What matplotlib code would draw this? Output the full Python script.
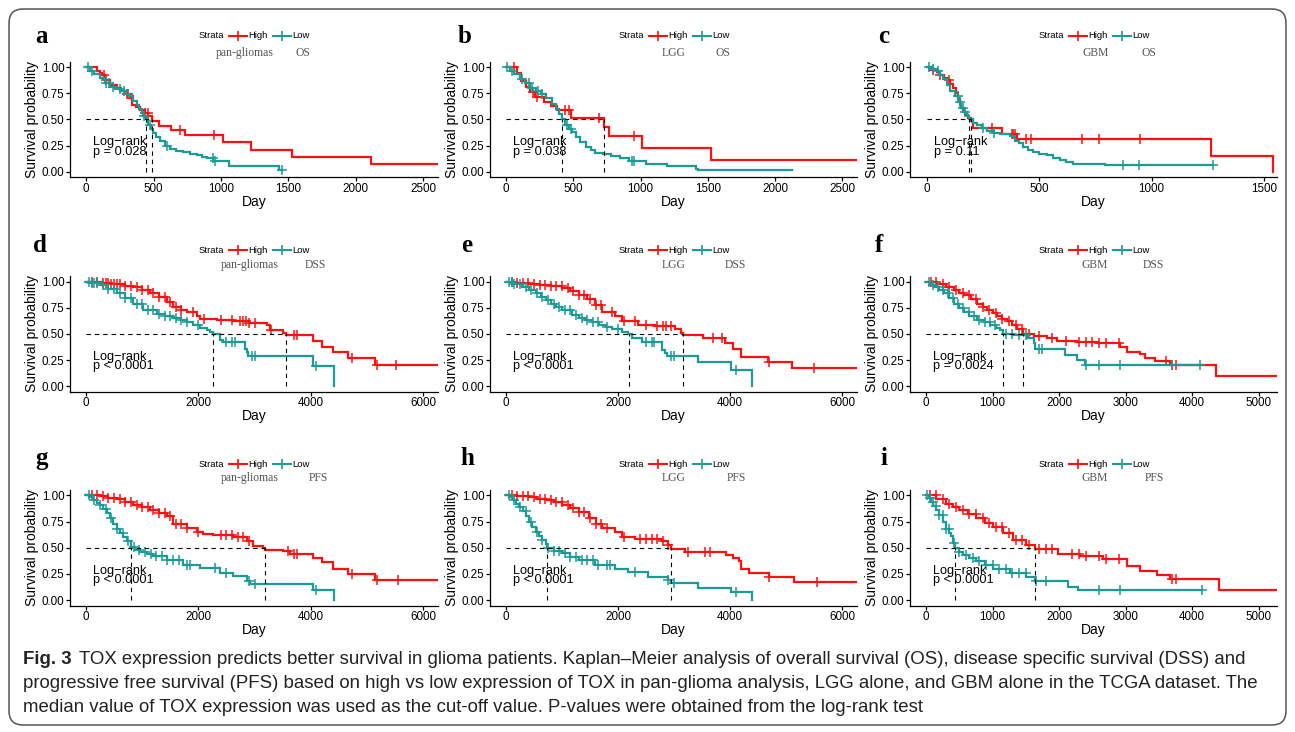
import numpy as np
import matplotlib.pyplot as plt
from matplotlib.lines import Line2D
from matplotlib.patches import FancyBboxPatch

plt.rcParams["font.family"] = ["Liberation Sans", "DejaVu Sans"]

# ---- KM curves: step times (day) and survival after each step ----
a_high_t = [0, 79, 100, 116, 141, 178, 228, 260, 289, 326, 339, 370, 400, 438, 462, 487, 540, 630, 730, 1015, 1225, 1530, 2115, 2611]
a_high_s = [1.0, 0.96, 0.94, 0.92, 0.88, 0.83, 0.80, 0.77, 0.74, 0.70, 0.64, 0.62, 0.59, 0.56, 0.53, 0.48, 0.44, 0.40, 0.35, 0.28, 0.21, 0.14, 0.07, 0.07]
a_high_cens = [130, 150, 300, 310, 440, 460, 697, 952]
a_low_t = [0, 30, 60, 104, 140, 178, 215, 252, 290, 326, 350, 376, 395, 413, 425, 443, 462, 480, 499, 520, 549, 585, 623, 670, 722, 770, 821, 860, 895, 944, 1061, 1430, 1450]
a_low_s = [1.0, 0.96, 0.93, 0.895, 0.85, 0.81, 0.79, 0.77, 0.745, 0.72, 0.68, 0.64, 0.60, 0.56, 0.53, 0.50, 0.45, 0.41, 0.37, 0.33, 0.29, 0.25, 0.22, 0.20, 0.19, 0.17, 0.16, 0.145, 0.13, 0.10, 0.054, 0.015, 0.015]
a_low_cens = [10, 40, 150, 170, 200, 250, 280, 430, 470, 600, 940, 955, 1450]

b_high_t = [0, 78, 110, 150, 180, 217, 280, 332, 382, 485, 727, 763, 1010, 1522, 2600]
b_high_s = [1.0, 0.94, 0.87, 0.81, 0.76, 0.71, 0.67, 0.63, 0.59, 0.51, 0.43, 0.34, 0.23, 0.11, 0.11]
b_high_cens = [60, 200, 230, 440, 470, 690, 948]
b_low_t = [0, 30, 60, 100, 140, 180, 220, 260, 300, 340, 370, 395, 414, 440, 465, 493, 520, 550, 591, 630, 665, 720, 780, 850, 911, 1040, 1200, 1410, 1430, 2130]
b_low_s = [1.0, 0.96, 0.93, 0.89, 0.85, 0.80, 0.77, 0.74, 0.70, 0.65, 0.60, 0.55, 0.50, 0.45, 0.41, 0.38, 0.33, 0.28, 0.24, 0.21, 0.18, 0.17, 0.15, 0.13, 0.10, 0.077, 0.054, 0.03, 0.013, 0.013]
b_low_cens = [10, 40, 120, 170, 190, 240, 270, 450, 480, 940, 955]

c_high_t = [0, 20, 45, 59, 75, 89, 104, 118, 130, 141, 148, 155, 163, 170, 185, 196, 207, 333, 400, 1263, 1538]
c_high_s = [1.0, 0.97, 0.95, 0.92, 0.90, 0.88, 0.84, 0.80, 0.75, 0.70, 0.65, 0.61, 0.57, 0.54, 0.51, 0.48, 0.42, 0.36, 0.31, 0.155, 0.0]
c_high_cens = [30, 60, 100, 290, 379, 385, 395, 440, 462, 689, 766, 950]
c_low_t = [0, 15, 44, 60, 74, 89, 104, 126, 141, 155, 166, 178, 190, 205, 222, 245, 267, 300, 326, 370, 393, 410, 430, 450, 474, 500, 533, 560, 593, 620, 652, 793, 1275]
c_low_s = [1.0, 0.98, 0.96, 0.92, 0.89, 0.83, 0.77, 0.72, 0.67, 0.61, 0.57, 0.53, 0.50, 0.47, 0.45, 0.42, 0.39, 0.37, 0.36, 0.34, 0.29, 0.27, 0.24, 0.21, 0.19, 0.17, 0.16, 0.13, 0.11, 0.09, 0.077, 0.06, 0.06]
c_low_cens = [10, 30, 50, 140, 150, 160, 170, 250, 300, 874, 945, 1275]

d_high_t = [0, 150, 300, 450, 546, 700, 843, 1000, 1139, 1300, 1436, 1555, 1700, 1792, 1970, 2030, 2326, 2622, 2900, 3216, 3276, 3513, 3556, 4047, 4210, 4403, 4670, 5145, 6267]
d_high_s = [1.0, 0.995, 0.99, 0.98, 0.975, 0.96, 0.95, 0.92, 0.89, 0.85, 0.81, 0.76, 0.73, 0.71, 0.67, 0.64, 0.63, 0.62, 0.60, 0.585, 0.54, 0.51, 0.49, 0.43, 0.38, 0.33, 0.27, 0.20, 0.20]
d_high_cens = [100, 200, 300, 350, 400, 450, 500, 550, 600, 700, 800, 900, 1000, 1100, 1200, 1300, 1400, 1500, 1600, 1700, 1900, 2100, 2400, 2600, 2750, 2800, 2850, 2900, 3000, 3300, 3700, 3750, 4730, 5180, 5514]
d_low_t = [0, 100, 250, 400, 546, 700, 843, 1020, 1258, 1400, 1555, 1700, 1792, 1900, 2030, 2150, 2207, 2267, 2385, 2444, 2830, 2861, 2890, 4047, 4420]
d_low_s = [1.0, 0.985, 0.97, 0.93, 0.89, 0.84, 0.79, 0.73, 0.69, 0.67, 0.65, 0.63, 0.61, 0.59, 0.56, 0.54, 0.52, 0.50, 0.44, 0.42, 0.36, 0.33, 0.29, 0.19, 0.0]
d_low_cens = [50, 100, 150, 200, 300, 400, 500, 600, 700, 800, 900, 1000, 1100, 1200, 1300, 1400, 1500, 1600, 1700, 1800, 2000, 2500, 2600, 2650, 2950, 3000, 4100]

e_high_t = [0, 200, 413, 600, 800, 1004, 1150, 1300, 1450, 1596, 1714, 1951, 2069, 2364, 2660, 3015, 3133, 3162, 3517, 3902, 4050, 4197, 4670, 5115, 6267]
e_high_s = [1.0, 0.99, 0.975, 0.965, 0.955, 0.94, 0.91, 0.87, 0.83, 0.78, 0.71, 0.67, 0.62, 0.59, 0.58, 0.55, 0.51, 0.49, 0.465, 0.41, 0.36, 0.28, 0.236, 0.178, 0.178]
e_high_cens = [100, 200, 300, 400, 500, 600, 700, 800, 900, 1000, 1100, 1200, 1300, 1400, 1500, 1600, 1700, 1900, 2100, 2300, 2500, 2700, 2800, 2850, 2950, 3695, 3850, 4700, 5498]
e_low_t = [0, 150, 295, 420, 532, 620, 710, 800, 887, 1004, 1181, 1300, 1419, 1540, 1655, 1780, 1891, 2069, 2187, 2246, 2423, 2778, 2838, 2867, 3429, 4020, 4387]
e_low_s = [1.0, 0.975, 0.95, 0.92, 0.89, 0.85, 0.82, 0.79, 0.76, 0.73, 0.68, 0.655, 0.63, 0.61, 0.59, 0.57, 0.55, 0.52, 0.50, 0.46, 0.42, 0.35, 0.32, 0.29, 0.23, 0.156, 0.0]
e_low_cens = [50, 100, 150, 250, 350, 450, 550, 650, 750, 850, 950, 1050, 1150, 1250, 1350, 1450, 1550, 1650, 1800, 2000, 2500, 2600, 2650, 2950, 3000, 4100]

f_high_t = [0, 170, 300, 419, 500, 569, 670, 769, 850, 919, 1000, 1069, 1150, 1218, 1300, 1368, 1452, 1617, 1817, 1967, 2266, 2566, 2915, 3015, 3214, 3289, 3439, 3664, 4362, 5265]
f_high_s = [1.0, 0.98, 0.95, 0.92, 0.895, 0.87, 0.83, 0.79, 0.76, 0.73, 0.70, 0.67, 0.645, 0.62, 0.585, 0.55, 0.50, 0.485, 0.46, 0.43, 0.42, 0.41, 0.38, 0.33, 0.31, 0.27, 0.24, 0.20, 0.095, 0.095]
f_high_cens = [80, 150, 250, 350, 450, 550, 650, 750, 850, 950, 1050, 1150, 1250, 1350, 1450, 1550, 1700, 1900, 2100, 2300, 2400, 2500, 2600, 2700, 2900, 3600, 3700, 3750]
f_low_t = [0, 60, 120, 200, 269, 340, 419, 500, 569, 650, 769, 870, 969, 1050, 1118, 1153, 1317, 1518, 1617, 1642, 2091, 2266, 2391, 4112]
f_low_s = [1.0, 0.97, 0.95, 0.92, 0.89, 0.84, 0.79, 0.75, 0.71, 0.67, 0.63, 0.61, 0.59, 0.56, 0.54, 0.50, 0.49, 0.46, 0.41, 0.36, 0.30, 0.25, 0.20, 0.20]
f_low_cens = [40, 100, 180, 250, 330, 400, 480, 560, 640, 720, 800, 880, 960, 1040, 1200, 1300, 1400, 1500, 1700, 1750, 2400, 2600, 2920, 3700, 4112]

g_high_t = [0, 249, 400, 546, 700, 843, 1000, 1139, 1300, 1436, 1555, 1792, 1970, 2089, 2267, 2622, 2861, 2979, 3157, 3187, 3513, 3632, 4047, 4196, 4403, 4670, 5145, 6267]
g_high_s = [1.0, 0.99, 0.975, 0.96, 0.935, 0.91, 0.885, 0.86, 0.83, 0.80, 0.73, 0.69, 0.65, 0.63, 0.62, 0.60, 0.56, 0.52, 0.50, 0.48, 0.47, 0.445, 0.40, 0.36, 0.30, 0.25, 0.19, 0.19]
g_high_cens = [100, 200, 300, 400, 500, 600, 700, 800, 900, 1000, 1100, 1200, 1300, 1400, 1500, 1600, 1700, 1800, 2000, 2400, 2500, 2600, 2700, 2800, 2900, 3600, 3700, 3750, 4730, 5180, 5560]
g_low_t = [0, 60, 131, 190, 249, 310, 368, 430, 486, 545, 605, 665, 724, 801, 880, 961, 1080, 1198, 1436, 1733, 2030, 2385, 2622, 2861, 2920, 4047, 4420]
g_low_s = [1.0, 0.98, 0.955, 0.93, 0.91, 0.87, 0.83, 0.78, 0.73, 0.68, 0.64, 0.60, 0.56, 0.51, 0.48, 0.46, 0.44, 0.42, 0.38, 0.34, 0.31, 0.26, 0.23, 0.18, 0.155, 0.10, 0.0]
g_low_cens = [50, 150, 250, 350, 450, 550, 650, 750, 850, 950, 1050, 1150, 1250, 1350, 1450, 1550, 1650, 1800, 1850, 2300, 2500, 2900, 3000, 4100]

h_high_t = [0, 200, 413, 560, 710, 850, 1004, 1150, 1300, 1478, 1600, 1714, 1951, 2069, 2306, 2778, 2897, 2955, 3193, 3931, 4050, 4168, 4197, 4345, 4700, 5144, 6267]
h_high_s = [1.0, 0.99, 0.98, 0.965, 0.955, 0.935, 0.91, 0.875, 0.84, 0.78, 0.73, 0.69, 0.65, 0.60, 0.58, 0.56, 0.53, 0.49, 0.46, 0.43, 0.40, 0.37, 0.30, 0.26, 0.225, 0.17, 0.17]
h_high_cens = [100, 200, 300, 400, 500, 600, 700, 800, 900, 1000, 1100, 1200, 1300, 1400, 1500, 1600, 1700, 1800, 2100, 2400, 2500, 2600, 2700, 2800, 2900, 3250, 3550, 3650, 4700, 5560]
h_low_t = [0, 60, 118, 180, 236, 300, 355, 415, 473, 530, 591, 650, 710, 738, 850, 1004, 1150, 1300, 1596, 1951, 2187, 2542, 2897, 2955, 3429, 4020, 4387]
h_low_s = [1.0, 0.98, 0.955, 0.92, 0.89, 0.85, 0.80, 0.75, 0.70, 0.65, 0.61, 0.57, 0.54, 0.50, 0.47, 0.45, 0.41, 0.38, 0.34, 0.30, 0.27, 0.225, 0.19, 0.16, 0.12, 0.076, 0.0]
h_low_cens = [50, 150, 250, 350, 450, 550, 650, 750, 850, 950, 1050, 1150, 1250, 1350, 1450, 1550, 1650, 1800, 1850, 2300, 2900, 3000, 4100]

i_high_t = [0, 151, 302, 400, 502, 630, 754, 880, 1005, 1155, 1306, 1508, 1644, 1985, 2313, 2664, 3017, 3218, 3469, 3670, 4398, 5280]
i_high_s = [1.0, 0.96, 0.92, 0.89, 0.86, 0.82, 0.78, 0.74, 0.70, 0.64, 0.57, 0.53, 0.49, 0.44, 0.42, 0.39, 0.33, 0.28, 0.24, 0.20, 0.095, 0.095]
i_high_cens = [60, 150, 250, 350, 450, 550, 650, 750, 850, 950, 1050, 1150, 1250, 1350, 1450, 1550, 1700, 1800, 1900, 2200, 2300, 2400, 2600, 2700, 2900, 3700, 3750]
i_low_t = [0, 40, 75, 110, 151, 200, 251, 300, 352, 377, 410, 437, 490, 552, 650, 754, 880, 1005, 1256, 1508, 1633, 2136, 2287, 4148]
i_low_s = [1.0, 0.97, 0.94, 0.90, 0.86, 0.81, 0.75, 0.68, 0.64, 0.61, 0.55, 0.50, 0.46, 0.43, 0.40, 0.37, 0.335, 0.30, 0.26, 0.225, 0.18, 0.13, 0.10, 0.10]
i_low_cens = [20, 60, 100, 150, 200, 250, 300, 350, 420, 500, 600, 700, 800, 900, 1000, 1100, 1200, 1300, 1400, 1500, 1650, 1800, 2600, 2920, 4148]

# medians (dashed lines) and log-rank p values
medians = {"a": [443, 487], "b": [414, 727], "c": [190, 196], "d": [2267, 3556],
           "e": [2205, 3162], "f": [1153, 1452], "g": [801, 3187], "h": [738, 2955],
           "i": [437, 1644]}
p_labels = {"a": "p = 0.028", "b": "p = 0.038", "c": "p = 0.11", "d": "p < 0.0001",
            "e": "p < 0.0001", "f": "p = 0.0024", "g": "p < 0.0001", "h": "p < 0.0001",
            "i": "p < 0.0001"}
cohorts = ["pan-gliomas", "LGG", "GBM"]
endpoints = ["OS", "DSS", "PFS"]

caption_1 = ("TOX expression predicts better survival in glioma patients. Kaplan\u2013Meier analysis of "
             "overall survival (OS), disease specific survival (DSS) and")
caption_2 = ("progressive free survival (PFS) based on high vs low expression of TOX in pan-glioma "
             "analysis, LGG alone, and GBM alone in the TCGA dataset. The")
caption_3 = ("median value of TOX expression was used as the cut-off value. P-values were obtained "
             "from the log-rank test")

RED = "#FF1010"
TEAL = "#1B9A96"
W, H = 1295, 732

# ---- layout (pixels) ----
COLS = [(70, 438), (490, 857), (910, 1277)]
ROWS = [(61.8, 177.0), (276.4, 391.5), (490.0, 605.5)]
XLIMS = {"a": (-120, 2611), "b": (-120, 2611), "c": (-74, 1558),
         "d": (-285, 6267), "e": (-285, 6267), "f": (-240, 5275),
         "g": (-285, 6267), "h": (-285, 6267), "i": (-240, 5275)}
XTICKS = {"a": range(0, 2501, 500), "b": range(0, 2501, 500), "c": range(0, 1501, 500),
          "d": range(0, 6001, 2000), "e": range(0, 6001, 2000), "f": range(0, 5001, 1000),
          "g": range(0, 6001, 2000), "h": range(0, 6001, 2000), "i": range(0, 5001, 1000)}
LETTER_X = [[35, 458, 878], [33, 461, 875], [35, 460, 881]]
LETTER_Y = [43, 252, 465]
LEGEND_X = [199, 619, 1039]
LEGEND_Y = [36, 250.3, 464.3]
SUB_X = [[(216, 295), (661.7, 715), (1082.7, 1141.7)],
         [(220.7, 305), (661.7, 725), (1081.7, 1142.7)],
         [(220.7, 308.3), (661.7, 726.7), (1081.7, 1145)]]
SUB_Y = [53.3, 265.3, 478.3]

curves = {
    "a": (a_high_t, a_high_s, a_high_cens, a_low_t, a_low_s, a_low_cens),
    "b": (b_high_t, b_high_s, b_high_cens, b_low_t, b_low_s, b_low_cens),
    "c": (c_high_t, c_high_s, c_high_cens, c_low_t, c_low_s, c_low_cens),
    "d": (d_high_t, d_high_s, d_high_cens, d_low_t, d_low_s, d_low_cens),
    "e": (e_high_t, e_high_s, e_high_cens, e_low_t, e_low_s, e_low_cens),
    "f": (f_high_t, f_high_s, f_high_cens, f_low_t, f_low_s, f_low_cens),
    "g": (g_high_t, g_high_s, g_high_cens, g_low_t, g_low_s, g_low_cens),
    "h": (h_high_t, h_high_s, h_high_cens, h_low_t, h_low_s, h_low_cens),
    "i": (i_high_t, i_high_s, i_high_cens, i_low_t, i_low_s, i_low_cens),
}


def fxy(x, y):
    return x / W, 1 - y / H


def draw_curve(ax, t, s, cens, color):
    t = np.asarray(t, float)
    s = np.asarray(s, float)
    ax.step(t, s, where="post", color=color, lw=1.6, solid_joinstyle="miter")
    c = np.asarray(cens, float)
    idx = np.clip(np.searchsorted(t, c, side="right") - 1, 0, len(s) - 1)
    ax.plot(c, s[idx], ls="none", marker="+", ms=6.5, mew=1.1, color=color)


def draw_legend(fig, x0, y):
    fig.text(*fxy(x0, y), "Strata", fontsize=6.8, va="center", ha="left")
    for color, xs, label in [(RED, x0 + 30, "High"), (TEAL, x0 + 74, "Low")]:
        yy = 1 - y / H
        fig.add_artist(Line2D([xs / W, (xs + 18) / W], [yy, yy], color=color, lw=1.5,
                              transform=fig.transFigure))
        fig.add_artist(Line2D([(xs + 9) / W], [yy], marker="+", ms=6.5, mew=1.2, color=color,
                              transform=fig.transFigure))
        fig.text((xs + 19.5) / W, yy, label, fontsize=6.8, va="center", ha="left")


fig = plt.figure(figsize=(W / 100, H / 100), dpi=100)

fig.add_artist(FancyBboxPatch((9, 7), W - 18, H - 16, boxstyle="round,pad=0,rounding_size=14",
                              transform=None, fill=False, ec="#555555", lw=1.1))

letters = "abcdefghi"
for k, key in enumerate(letters):
    r, cidx = divmod(k, 3)
    L, R = COLS[cidx]
    T, B = ROWS[r]
    ax = fig.add_axes([L / W, 1 - B / H, (R - L) / W, (B - T) / H])
    ht, hs, hc, lt, ls_, lc = curves[key]
    draw_curve(ax, ht, hs, hc, RED)
    draw_curve(ax, lt, ls_, lc, TEAL)

    med = medians[key]
    ax.plot([0, max(med)], [0.5, 0.5], color="black", lw=0.8, dashes=(4, 3.5))
    for m in med:
        ax.plot([m, m], [0, 0.5], color="black", lw=0.8, dashes=(4, 3.5))

    x0, x1 = XLIMS[key]
    ax.set_xlim(x0, x1)
    ax.set_ylim(-0.05, 1.05)
    ax.set_xticks(list(XTICKS[key]))
    ax.set_yticks([0, 0.25, 0.5, 0.75, 1.0])
    ax.set_yticklabels(["0.00", "0.25", "0.50", "0.75", "1.00"])
    for sp in ["top", "right"]:
        ax.spines[sp].set_visible(False)
    for sp in ["left", "bottom"]:
        ax.spines[sp].set_linewidth(0.9)
    ax.tick_params(direction="out", length=2.6, width=0.9, labelsize=8.4, pad=1.5, colors="black")
    ax.set_xlabel("Day", fontsize=10, labelpad=0)
    ax.set_ylabel("Survival probability", fontsize=10, labelpad=2)

    tx = 0.02 * x1
    ax.text(tx, 0.135, "Log\u2212rank\n" + p_labels[key], fontsize=9.2, ha="left",
            va="bottom", linespacing=0.72)

    fig.text(*fxy(LETTER_X[r][cidx], LETTER_Y[r]), key, fontsize=18, fontweight="bold",
             family=["Liberation Serif", "DejaVu Serif"], ha="left", va="baseline")
    draw_legend(fig, LEGEND_X[cidx], LEGEND_Y[r])
    sx1, sx2 = SUB_X[r][cidx]
    fig.text(*fxy(sx1, SUB_Y[r]), cohorts[cidx], fontsize=8.4, color="#555555",
             family=["Liberation Serif", "DejaVu Serif"], ha="left", va="center")
    fig.text(*fxy(sx2, SUB_Y[r]), endpoints[r], fontsize=8.4, color="#555555",
             family=["Liberation Serif", "DejaVu Serif"], ha="left", va="center")

# ---- caption, fitted to the reference line width ----
cap_family = ["Liberation Sans Narrow", "Liberation Sans", "DejaVu Sans"]
fs = 12
t_fig = fig.text(*fxy(23, 664), "Fig. 3", fontsize=fs, fontweight="bold", family=cap_family,
                 ha="left", va="baseline", color="#222222")
t1 = fig.text(*fxy(80, 664), caption_1, fontsize=fs, family=cap_family, ha="left",
              va="baseline", color="#222222")
t2 = fig.text(*fxy(23, 688), caption_2, fontsize=fs, family=cap_family, ha="left",
              va="baseline", color="#222222")
t3 = fig.text(*fxy(23, 712), caption_3, fontsize=fs, family=cap_family, ha="left",
              va="baseline", color="#222222")
renderer = fig.canvas.get_renderer()
scale = 1240 / t2.get_window_extent(renderer).width
for t in (t_fig, t1, t2, t3):
    t.set_fontsize(fs * scale)
wfig = t_fig.get_window_extent(renderer).width
t1.set_position(fxy(23 + wfig + 7, 664))

fig.savefig("out.png", dpi=100)
